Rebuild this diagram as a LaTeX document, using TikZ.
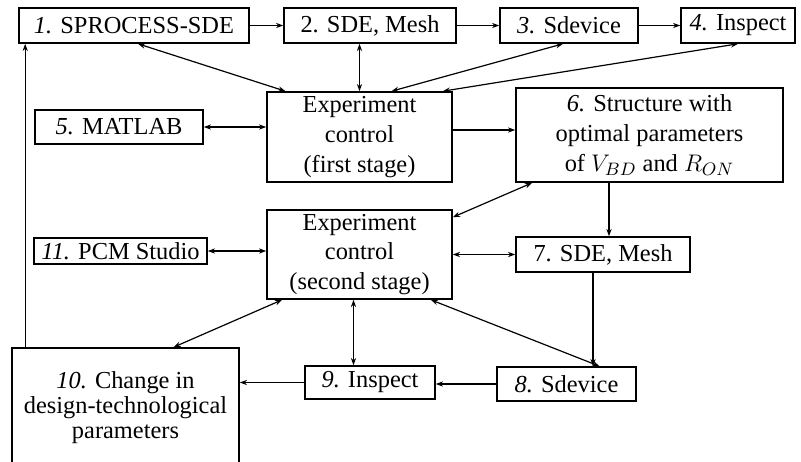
\documentclass[tikz,border=0pt]{standalone}
\usepackage{fontspec}
\setmainfont{Liberation Serif}
\usetikzlibrary{arrows.meta,calc}
\tikzstyle{blk}=[draw, line width=0.8pt, inner sep=0pt, align=center, font=\fontsize{12.2}{14.8}\selectfont]
\tikzstyle{con}=[line width=0.6pt, -{Stealth[length=3.6pt,width=2.6pt]}]
\tikzstyle{bicon}=[line width=0.6pt, {Stealth[length=3.6pt,width=2.6pt]}-{Stealth[length=3.6pt,width=2.6pt]}]
\newcommand{\blkat}[5]{
 \node[blk, minimum width=#3pt, minimum height=#4pt] (#1) at #2 {#5};
}
\begin{document}
\begin{tikzpicture}[x=0.5pt, y=-0.5pt]
 \useasboundingbox (0,0) rectangle (801,461);
 \clip (0,0) rectangle (801,461);
% top row
 \blkat{b1}{(134,25.5)}{115}{17.5}{\textit{1.} SPROCESS-SDE}
 \blkat{b2}{(370,25.5)}{86}{17.5}{2. SDE, Mesh}
 \blkat{b3}{(569,25.5)}{69}{17.5}{\textit{3.} Sdevice}
 \blkat{b4}{(738,25.5)}{57}{17.5}{\textit{4.} Inspect}
% control blocks
 \blkat{ec1}{(359.5,137)}{92.5}{45}{Experiment\\control\\(first stage)}
 \blkat{ec2}{(359.5,254.5)}{92.5}{44.5}{Experiment\\control\\(second stage)}
 \blkat{b5}{(119,127)}{84}{17}{\textit{5.} MATLAB}
 \blkat{b11}{(120.5,251)}{86.5}{13}{\textit{11.} PCM Studio}
 \blkat{b6}{(649.5,135)}{133.5}{47}{\textit{6.} Structure with\\optimal parameters\\of $V_{BD}$ and $R_{ON}$}
 \blkat{b7}{(603,254.5)}{87}{17.5}{7. SDE, Mesh}
% bottom row
 \blkat{b8}{(566.5,384)}{69.5}{17}{\textit{8.} Sdevice}
 \blkat{b9}{(370,382.5)}{65}{16.5}{\textit{9.} Inspect}
 \blkat{b10}{(125.5,408)}{113.5}{60}{\textit{10.} Change in\\[-2.3pt]design-technological\\[-2.3pt]parameters}
%
 \draw[con] (b1.east) -- (b2.west);
 \draw[con] (b2.east) -- (b3.west);
 \draw[con] (b3.east) -- (b4.west);
 \draw[bicon] ([xshift=2pt]b1.south) -- ([xshift=-37pt]ec1.north);
 \draw[bicon] (ec1.north |- b2.south) -- (ec1.north);
 \draw[bicon] ([xshift=-3pt]b3.south) -- ([xshift=16pt]ec1.north);
 \draw[bicon] (b4.south) -- ([xshift=-5pt]ec1.north east);
 \draw[bicon] (b5.east) -- (b5.east -| ec1.west);
 \draw[con] ([yshift=3.5pt]ec1.east) -- ([yshift=3.5pt]ec1.east -| b6.west);
 \draw[bicon] ([xshift=8.5pt]b6.south west) -- ([yshift=-4pt]ec2.north east);
 \draw[con] ([xshift=3pt]b7.north |- b6.south) -- ([xshift=3pt]b7.north);
 \draw[bicon] (b11.east) -- (b11.east -| ec2.west);
 \draw[bicon] (ec2.east) -- (b7.west);
 \draw[con] ([xshift=-5pt]b7.south) -- ([xshift=-5pt]b7.south |- b8.north);
 \draw[bicon] ([xshift=-11pt]ec2.south east) -- ([xshift=16.5pt]b8.north);
 \draw[bicon] ([xshift=-3pt]ec2.south) -- ([xshift=-3pt]ec2.south |- b9.north);
 \draw[bicon] ([xshift=8pt]ec2.south west) -- ([xshift=24pt]b10.north);
 \draw[con] (b8.west) -- (b8.west -| b9.east);
 \draw[con] (b9.west) -- (b9.west -| b10.east);
 \draw[con] ([xshift=3.5pt]b1.south west |- b10.north) -- ([xshift=3.5pt]b1.south west);
\end{tikzpicture}
\end{document}
